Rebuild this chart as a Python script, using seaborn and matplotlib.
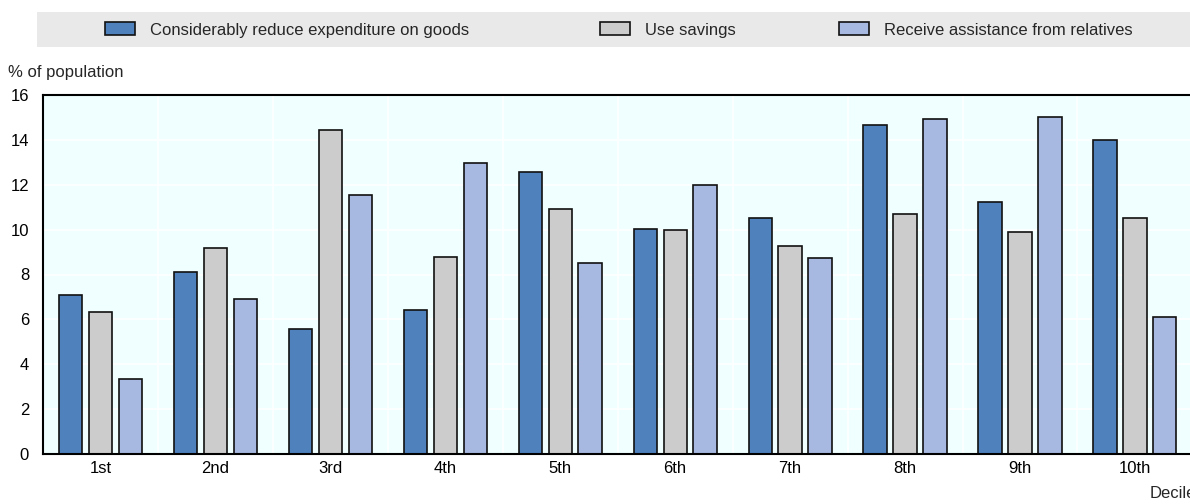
import numpy as np
import pandas as pd
import matplotlib.pyplot as plt
import seaborn as sns
from matplotlib.ticker import FixedLocator

sns.set_theme(style="white")
plt.rcParams['font.family'] = ['Liberation Sans', 'DejaVu Sans']

# Data
deciles = ['1st', '2nd', '3rd', '4th', '5th', '6th', '7th', '8th', '9th', '10th']
reduce_spending = [7.1, 8.1, 5.55, 6.4, 12.55, 10.05, 10.5, 14.65, 11.25, 14.0]
use_savings = [6.35, 9.2, 14.45, 8.8, 10.9, 10.0, 9.25, 10.7, 9.9, 10.5]
relatives = [3.35, 6.9, 11.55, 12.95, 8.5, 12.0, 8.75, 14.95, 15.0, 6.1]

series_names = ['Considerably reduce expenditure on goods', 'Use savings',
                'Receive assistance from relatives']
colors = ['#4F81BD', '#CCCCCC', '#A7B8E1']

df = pd.DataFrame({
    'Decile': deciles * 3,
    'Response': np.repeat(series_names, len(deciles)),
    'Value': reduce_spending + use_savings + relatives,
})

fig = plt.figure(figsize=(11.9, 5.04), dpi=100)
ax = fig.add_axes([43 / 1190, 1 - 454 / 504, 1 - 43 / 1190 + 0.002, (454 - 95) / 504])
ax.set_facecolor('#F0FFFF')

sns.barplot(data=df, x='Decile', y='Value', hue='Response', hue_order=series_names,
            order=deciles, palette=colors, saturation=1, width=0.78, gap=0.22,
            edgecolor='#111111', linewidth=1.2, ax=ax, legend=True)

ax.set_ylim(0, 16)
ax.set_xlim(-0.5, len(deciles) - 0.5)
ax.set_yticks(np.arange(0, 17, 2))
ax.xaxis.set_minor_locator(FixedLocator(np.arange(0.5, len(deciles) - 0.5, 1)))
ax.grid(True, axis='y', color='white', linewidth=1.2)
ax.grid(True, axis='x', which='minor', color='white', linewidth=1.2)
ax.set_axisbelow(True)

ax.tick_params(axis='y', length=0, labelsize=12, pad=10, labelcolor='black')
ax.tick_params(axis='x', which='major', length=0, labelsize=12, pad=5, labelcolor='black')
ax.tick_params(axis='x', which='minor', direction='in', length=5, width=1.2, color='black')
for side in ['left', 'bottom', 'top', 'right']:
    ax.spines[side].set_visible(True)
    ax.spines[side].set_color('black')
    ax.spines[side].set_linewidth(1.5)
ax.set_xlabel('')
ax.set_ylabel('')

# Legend band at the top
band = plt.Rectangle((37 / 1190, 1 - 47 / 504), 1 - 37 / 1190, 35 / 504,
                     transform=fig.transFigure, facecolor='#E9E9E9', edgecolor='none', zorder=0)
fig.patches.append(band)
handles, labels = ax.get_legend_handles_labels()
ax.legend_.remove()
legend_x = [105, 600, 839]
for h, lab, x in zip(handles, labels, legend_x):
    fig.legend([h], [lab], loc='center left', bbox_to_anchor=(x / 1190, 1 - 30 / 504),
               frameon=False, fontsize=12, handlelength=1.8, handleheight=0.8,
               handletextpad=0.9, borderpad=0, borderaxespad=0)

fig.text(8 / 1190, 1 - 73 / 504, '% of population', fontsize=12, va='center', ha='left')
fig.text(1150 / 1190, 1 - 494 / 504, 'Decile', fontsize=12, va='center', ha='left')

fig.savefig('out.png', dpi=100)
